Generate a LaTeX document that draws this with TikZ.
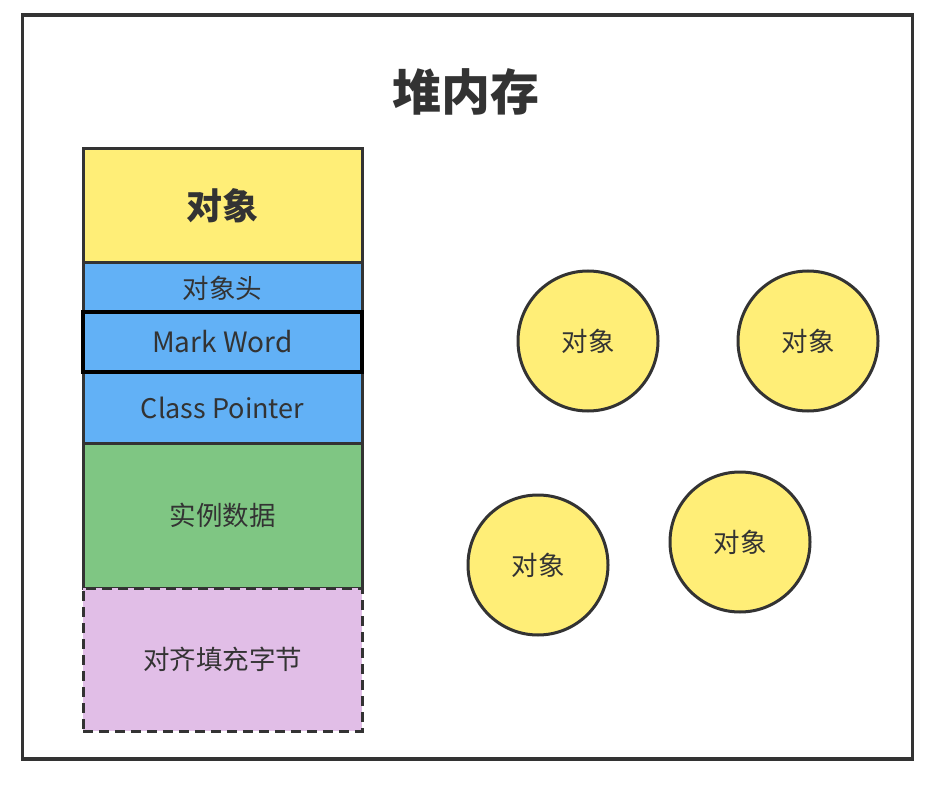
\documentclass[tikz,border=0pt]{standalone}
\usepackage{fontspec}
\setmainfont{Noto Sans CJK SC}
\definecolor{edge}{HTML}{333333}
\definecolor{fyellow}{HTML}{FFEE77}
\definecolor{fblue}{HTML}{62B1F6}
\definecolor{fgreen}{HTML}{7FC683}
\definecolor{fpurple}{HTML}{E1BEE7}
\begin{document}
\begin{tikzpicture}[x=1pt,y=-1pt,
  box/.style={draw=edge, line width=3pt, minimum width=279pt, inner sep=0pt, text=edge, font=\fontsize{26.5}{32}\selectfont},
  obj/.style={circle, draw=edge, line width=3pt, fill=fyellow, minimum size=140pt, inner sep=0pt, text=edge, font=\fontsize{26.5}{32}\selectfont}]
\useasboundingbox (0,0) rectangle (942,786);
\node[draw=edge, line width=3.5pt, minimum width=890pt, minimum height=744pt, inner sep=0pt] (heap) at (467.5,387) {};
\node[text=edge, font=\fontsize{49}{54}\selectfont\bfseries] (title) at (466,92) {堆内存};
\node[box, fill=fyellow, minimum height=114pt, font=\fontsize{36}{40}\selectfont\bfseries] (o) at (222.5,206) {对象};
\node[box, fill=fblue, minimum height=50pt] (hdr) at (222.5,288) {对象头};
\node[box, fill=fblue, minimum height=71pt, font=\fontsize{27}{32}\selectfont] (cp) at (222.5,407.5) {Class Pointer};
\node[box, fill=fgreen, minimum height=145pt] (data) at (222.5,515.5) {实例数据};
\node[box, fill=fpurple, dashed, dash pattern=on 10pt off 6pt, minimum height=143pt] (pad) at (222.5,659.5) {对齐填充字节};
\node[box, draw=black, line width=3.5pt, fill=fblue, minimum height=60pt, font=\fontsize{28}{32}\selectfont] (mw) at (222.5,342) {Mark Word};
\node[obj] (c1) at (588,341) {对象};
\node[obj] (c2) at (808,341) {对象};
\node[obj] (c3) at (538,565) {对象};
\node[obj] (c4) at (740,542) {对象};
\end{tikzpicture}
\end{document}
